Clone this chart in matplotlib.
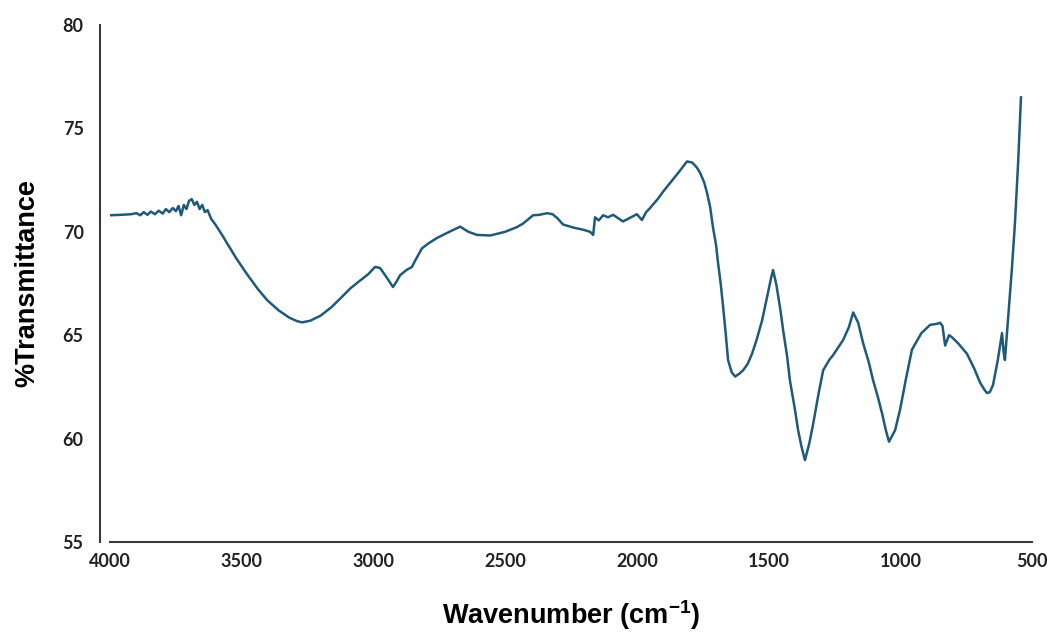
import matplotlib
matplotlib.use("Agg")
import matplotlib.pyplot as plt

# FTIR spectrum
WAVENUMBER = [
    4000, 3960, 3920, 3900, 3885, 3872, 3858, 3845, 3830, 3815, 3800, 3788,
    3775, 3762, 3750, 3740, 3730, 3720, 3710, 3700, 3690, 3680, 3670, 3660,
    3650, 3640, 3630, 3615, 3600, 3585, 3570, 3556, 3520, 3480, 3440, 3404,
    3360, 3320, 3290, 3271, 3240, 3200, 3160, 3120, 3089, 3050, 3020, 2994,
    2975, 2964, 2945, 2926, 2912, 2899, 2875, 2854, 2842, 2816, 2790, 2759,
    2715, 2671, 2640, 2607, 2557, 2500, 2455, 2432, 2394, 2370, 2341, 2320,
    2303, 2280, 2240, 2204, 2178, 2166, 2159, 2145, 2128, 2110, 2090, 2070,
    2053, 2030, 2000, 1981, 1965, 1950, 1920, 1900, 1874, 1840, 1810, 1790,
    1772, 1760, 1745, 1734, 1722, 1711, 1700, 1692, 1682, 1673, 1663, 1654,
    1640, 1627, 1610, 1597, 1580, 1570, 1563, 1545, 1525, 1505, 1490, 1483,
    1470, 1455, 1445, 1430, 1419, 1400, 1388, 1375, 1362, 1345, 1331, 1310,
    1293, 1270, 1255, 1217, 1195, 1179, 1160, 1141, 1120, 1103, 1085, 1069,
    1055, 1043, 1020, 1001, 980, 956, 920, 887, 860, 849, 840, 830,
    815, 804, 780, 747, 720, 697, 680, 671, 660, 648, 630, 614,
    608, 603, 590, 576, 565, 553, 542,
]
TRANSMITTANCE = [
    70.80, 70.82, 70.85, 70.90, 70.80, 70.95, 70.82, 70.98, 70.85, 71.02, 70.88, 71.10,
    70.95, 71.15, 71.00, 71.25, 70.80, 71.30, 71.10, 71.50, 71.58, 71.30, 71.45, 71.10,
    71.30, 70.95, 71.05, 70.60, 70.35, 70.05, 69.75, 69.45, 68.70, 67.95, 67.25, 66.70,
    66.20, 65.85, 65.68, 65.62, 65.70, 65.95, 66.35, 66.85, 67.25, 67.65, 67.95, 68.30,
    68.25, 68.05, 67.70, 67.33, 67.60, 67.90, 68.15, 68.30, 68.60, 69.20, 69.45, 69.70,
    69.98, 70.25, 70.00, 69.85, 69.82, 70.00, 70.23, 70.40, 70.80, 70.82, 70.90, 70.85,
    70.67, 70.35, 70.20, 70.10, 70.00, 69.85, 70.70, 70.55, 70.80, 70.70, 70.82, 70.65,
    70.50, 70.65, 70.85, 70.57, 70.95, 71.15, 71.60, 71.95, 72.36, 72.90, 73.40, 73.35,
    73.10, 72.85, 72.40, 71.90, 71.20, 70.20, 69.40, 68.50, 67.50, 66.40, 65.10, 63.80,
    63.20, 63.00, 63.15, 63.30, 63.60, 63.90, 64.10, 64.80, 65.70, 66.90, 67.80, 68.15,
    67.40, 66.20, 65.25, 64.00, 62.80, 61.40, 60.40, 59.60, 58.96, 59.80, 60.70, 62.20,
    63.30, 63.80, 64.04, 64.77, 65.40, 66.10, 65.60, 64.60, 63.70, 62.80, 62.00, 61.20,
    60.40, 59.85, 60.40, 61.40, 62.80, 64.30, 65.10, 65.50, 65.55, 65.60, 65.45, 64.50,
    65.00, 64.90, 64.60, 64.10, 63.40, 62.70, 62.35, 62.20, 62.25, 62.60, 63.80, 65.10,
    64.20, 63.80, 66.00, 68.30, 70.40, 73.30, 76.50,
]

X_TICKS = [4000, 3500, 3000, 2500, 2000, 1500, 1000, 500]
Y_TICKS = [55, 60, 65, 70, 75, 80]

LINE_COLOR = "#1f5a78"

plt.rcParams["font.family"] = ["Lato", "DejaVu Sans"]
plt.rcParams["font.weight"] = "bold"
plt.rcParams["mathtext.default"] = "regular"

fig = plt.figure(figsize=(10.5, 6.33), dpi=100)
ax = fig.add_axes([0.1048, 0.1438, 0.8781, 0.8167])

ax.plot(WAVENUMBER, TRANSMITTANCE, color=LINE_COLOR, linewidth=1.8)

ax.set_xlim(4000, 500)
ax.set_ylim(55, 80)
ax.set_xticks(X_TICKS)
ax.set_yticks(Y_TICKS)
ax.tick_params(axis="both", length=0, labelsize=13, colors="#222222")
ax.tick_params(axis="y", pad=12)
ax.tick_params(axis="x", pad=8)
for lbl in ax.get_xticklabels() + ax.get_yticklabels():
    lbl.set_fontweight("bold")

for side in ["top", "right"]:
    ax.spines[side].set_visible(False)
ax.spines["left"].set_position(("outward", 7))
for side in ["left", "bottom"]:
    ax.spines[side].set_color("#3a3a3a")
    ax.spines[side].set_linewidth(1.5)

title_font = ["Liberation Sans", "DejaVu Sans"]
ax.set_xlabel("Wavenumber (cm$^{-1}$)", fontsize=19.5, fontweight="bold",
              family=title_font, labelpad=20)
ax.set_ylabel("%Transmittance", fontsize=19.5, fontweight="bold",
              family=title_font, labelpad=16)

fig.savefig("out.png", dpi=100)
